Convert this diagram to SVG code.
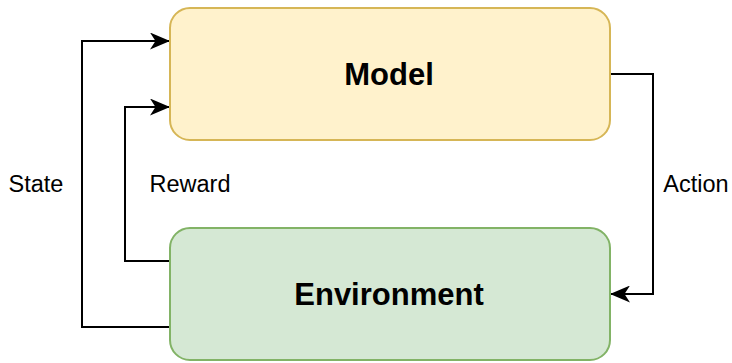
<svg xmlns="http://www.w3.org/2000/svg" width="732" height="363" viewBox="0 0 732 363">
<style>
.box{stroke-width:2}
.lbl{font-family:"Liberation Sans",Arial,sans-serif;font-size:23.5px;fill:#000}
.title{font-family:"Liberation Sans",Arial,sans-serif;font-size:31px;font-weight:bold;fill:#000}
.edge{fill:none;stroke:#000;stroke-width:2}
</style>
<defs>
<marker id="arr" viewBox="0 0 20 17" refX="19" refY="8.5" markerWidth="20" markerHeight="17" markerUnits="userSpaceOnUse" orient="auto">
<path d="M0,0 L20,8.5 L0,17 L5.5,8.5 Z" fill="#000"/>
</marker>
</defs>
<rect width="732" height="363" fill="#fff"/>
<g id="edges">
<path class="edge" d="M170,327 H82 V41 H169" marker-end="url(#arr)"/>
<path class="edge" d="M170,261 H125 V107 H169" marker-end="url(#arr)"/>
<path class="edge" d="M610,74 H653 V294 H611" marker-end="url(#arr)"/>
<text class="lbl" x="36" y="192" text-anchor="middle">State</text>
<text class="lbl" x="190" y="192" text-anchor="middle">Reward</text>
<text class="lbl" x="696" y="192" text-anchor="middle">Action</text>
</g>
<g id="model">
<rect class="box" x="170" y="8" width="440" height="132" rx="20" fill="#fff2cc" stroke="#d6b656"/>
<text class="title" x="389" y="85" text-anchor="middle">Model</text>
</g>
<g id="environment">
<rect class="box" x="170" y="228" width="440" height="132" rx="20" fill="#d5e8d4" stroke="#82b366"/>
<text class="title" x="389" y="305" text-anchor="middle">Environment</text>
</g>
</svg>
